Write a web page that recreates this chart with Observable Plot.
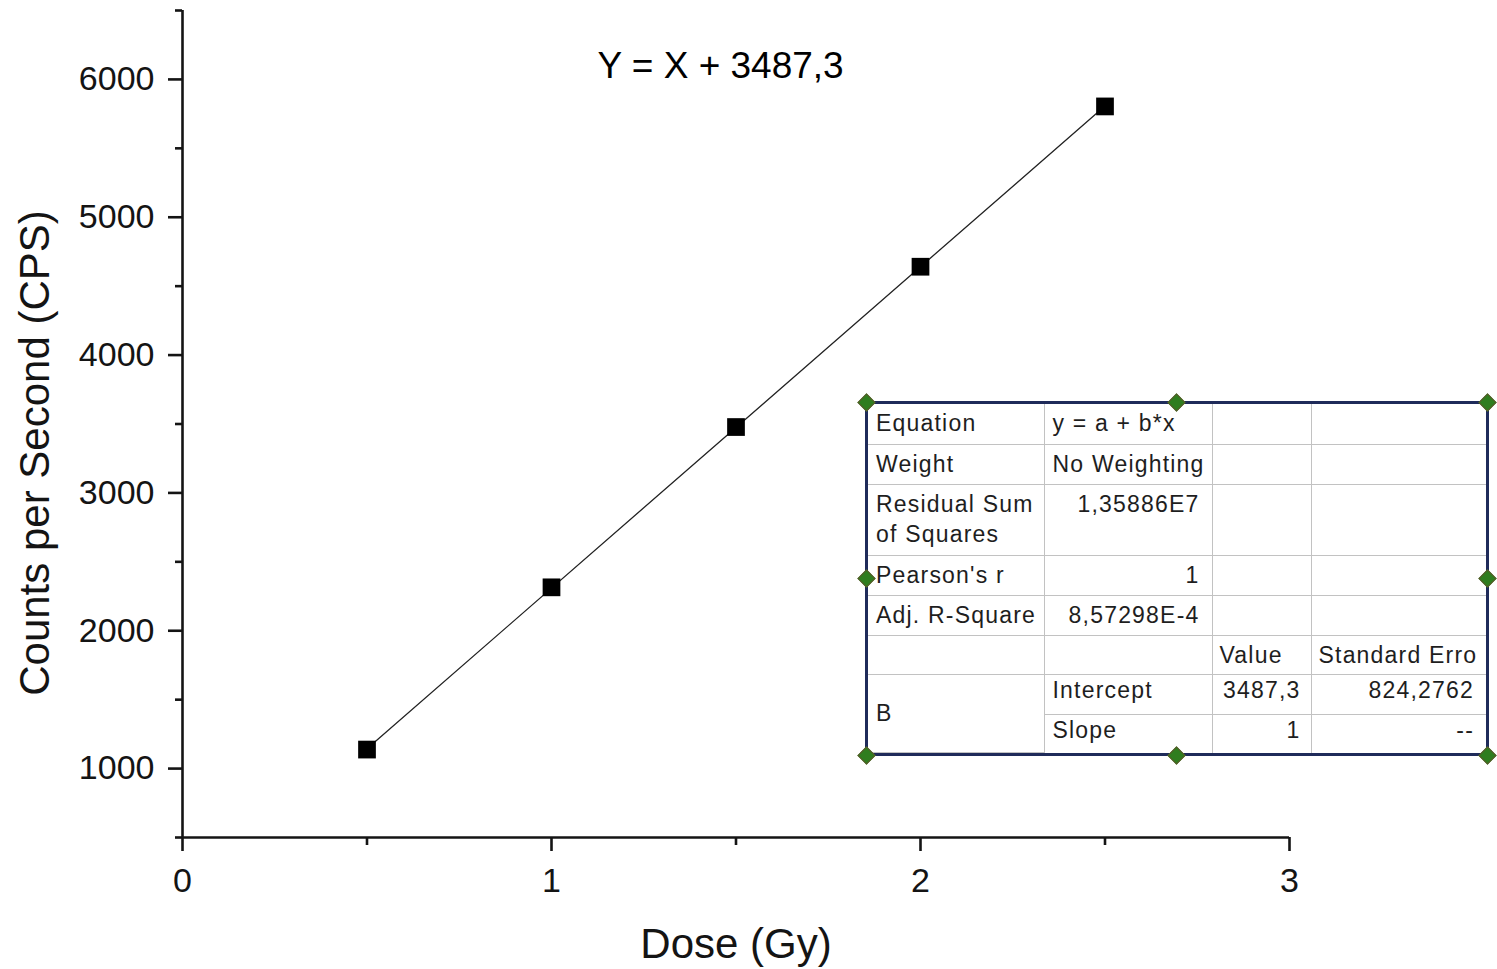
<!DOCTYPE html>
<html>
<head>
<meta charset="utf-8">
<script src="https://cdn.jsdelivr.net/npm/d3@7"></script>
<script src="https://cdn.jsdelivr.net/npm/@observablehq/plot@0.6"></script>
<style>
  html, body { margin: 0; padding: 0; background: #fff; }
  #wrap { position: relative; width: 1497px; height: 969px; overflow: hidden; font-family: "Liberation Sans", Arial, sans-serif; }
  #wrap svg { position: absolute; left: 0; top: 0; }
  #stats { position: absolute; left: 865px; top: 401px; width: 618px; height: 349px; border: 3px solid #1f2b5a; background: #fff; }
  #stats table { border-collapse: collapse; table-layout: fixed; width: 100%; height: 100%; }
  #stats td { border: 1px solid #c2c2c2; font-size: 23px; letter-spacing: 1.2px; color: #1e1e1e; vertical-align: top; padding: 4px 12px 0 8px; line-height: 30px; white-space: nowrap; overflow: hidden; }
  #stats tr:first-child td { border-top: none; }
  #stats tr:last-child td { border-bottom: none; }
  #stats td:first-child { border-left: none; }
  #stats td:last-child { border-right: none; }
  #stats td.num { text-align: right; }
  #stats td.mid { vertical-align: middle; padding-top: 0; }
  .handle { position: absolute; width: 11px; height: 11px; background: #2f7d1f; border: 1px solid #5a5a2a; transform: rotate(45deg); }
</style>
</head>
<body>
<div id="wrap"></div>
<script>
// ---- data ----
const dose = [0.5, 1, 1.5, 2, 2.5];
const cps = [1138, 2315, 3478, 4641, 5804];
const yMajorTicks = [1000, 2000, 3000, 4000, 5000, 6000];
const yMinorTicks = [500, 1500, 2500, 3500, 4500, 5500, 6500];
const xMajorTicks = [0, 1, 2, 3];
const xMinorTicks = [0.5, 1.5, 2.5];
const xLabel = "Dose (Gy)";
const yLabel = "Counts per Second (CPS)";
const equationText = "Y = X + 3487,3";

// fit statistics table
const statLabels = ["Equation", "Weight", "Residual Sum<br>of Squares", "Pearson's r", "Adj. R-Square"];
const statValues = ["y = a + b*x", "No Weighting", "1,35886E7", "1", "8,57298E-4"];
const statNumeric = [false, false, true, true, true];
const paramHeader = ["Value", "Standard Erro"];
const paramGroup = "B";
const paramNames = ["Intercept", "Slope"];
const paramValues = ["3487,3", "1"];
const paramErrors = ["824,2762", "--"];

const data = dose.map((d, i) => ({dose: d, cps: cps[i]}));
const ink = "#141414";

const chart = Plot.plot({
  width: 1497,
  height: 969,
  marginLeft: 182,
  marginRight: 208,
  marginTop: 10,
  marginBottom: 132,
  style: {fontFamily: "'Liberation Sans', Arial, sans-serif", background: "transparent", color: ink},
  x: {domain: [0, 3]},
  y: {domain: [500, 6500]},
  marks: [
    Plot.ruleX([0], {stroke: ink, strokeWidth: 2.6}),
    Plot.ruleY([500], {stroke: ink, strokeWidth: 2.6}),
    Plot.axisY({ticks: yMajorTicks, tickSize: 14, tickPadding: 14, strokeWidth: 2.6, fontSize: 34, label: null, tickFormat: d => String(d)}),
    Plot.axisY({ticks: yMinorTicks, tickSize: 7, strokeWidth: 2.6, text: null, label: null}),
    Plot.axisX({ticks: xMajorTicks, tickSize: 14, tickPadding: 16, strokeWidth: 2.6, fontSize: 34, label: null, tickFormat: d => String(d)}),
    Plot.axisX({ticks: xMinorTicks, tickSize: 8, strokeWidth: 2.6, text: null, label: null}),
    Plot.text([yLabel], {frameAnchor: "left", textAnchor: "middle", lineAnchor: "middle", rotate: -90, dx: -147, dy: 29, fontSize: 42, fill: ink}),
    Plot.text([xLabel], {frameAnchor: "bottom", textAnchor: "middle", lineAnchor: "middle", dy: 107, fontSize: 42, fill: ink}),
    Plot.text([equationText], {frameAnchor: "top-left", textAnchor: "start", lineAnchor: "middle", dx: 415, dy: 56, fontSize: 37, fill: "#000"}),
    Plot.linearRegressionY(data, {x: "dose", y: "cps", ci: 0, stroke: "#222", strokeWidth: 1.3}),
    Plot.dot(data, {x: "dose", y: "cps", symbol: "square", r: 10, fill: "#000", stroke: "none"})
  ]
});

const wrap = document.getElementById("wrap");
wrap.appendChild(chart);

// build stats table
let html = "<table><colgroup><col style='width:176px'><col style='width:168px'><col style='width:99px'><col style='width:175px'></colgroup>";
const rowH = [40, 40, 71, 40, 40];
statLabels.forEach((lab, i) => {
  html += `<tr style="height:${rowH[i]}px"><td>${lab}</td><td class="${statNumeric[i] ? 'num' : ''}">${statValues[i]}</td><td></td><td></td></tr>`;
});
html += `<tr style="height:39px"><td></td><td></td><td style="padding-left:7px">${paramHeader[0]}</td><td style="padding-left:7px">${paramHeader[1]}</td></tr>`;
paramNames.forEach((n, i) => {
  html += `<tr style="height:${i === 0 ? 40 : 38}px">` +
    (i === 0 ? `<td rowspan="2" class="mid">${paramGroup}</td>` : "") +
    `<td style="padding-top:0">${n}</td><td class="num" style="padding-top:0;padding-right:10px">${paramValues[i]}</td><td class="num" style="padding-top:0">${paramErrors[i]}</td></tr>`;
});
html += "</table>";
const stats = document.createElement("div");
stats.id = "stats";
stats.innerHTML = html;
wrap.appendChild(stats);

// selection handles around the table
const hx = [866, 1176, 1487], hy = [402, 578, 755];
for (const yy of hy) for (const xx of hx) {
  if (yy === 578 && xx === 1176) continue;
  const h = document.createElement("div");
  h.className = "handle";
  h.style.left = (xx - 6.5) + "px";
  h.style.top = (yy - 6.5) + "px";
  wrap.appendChild(h);
}
</script>
</body>
</html>
